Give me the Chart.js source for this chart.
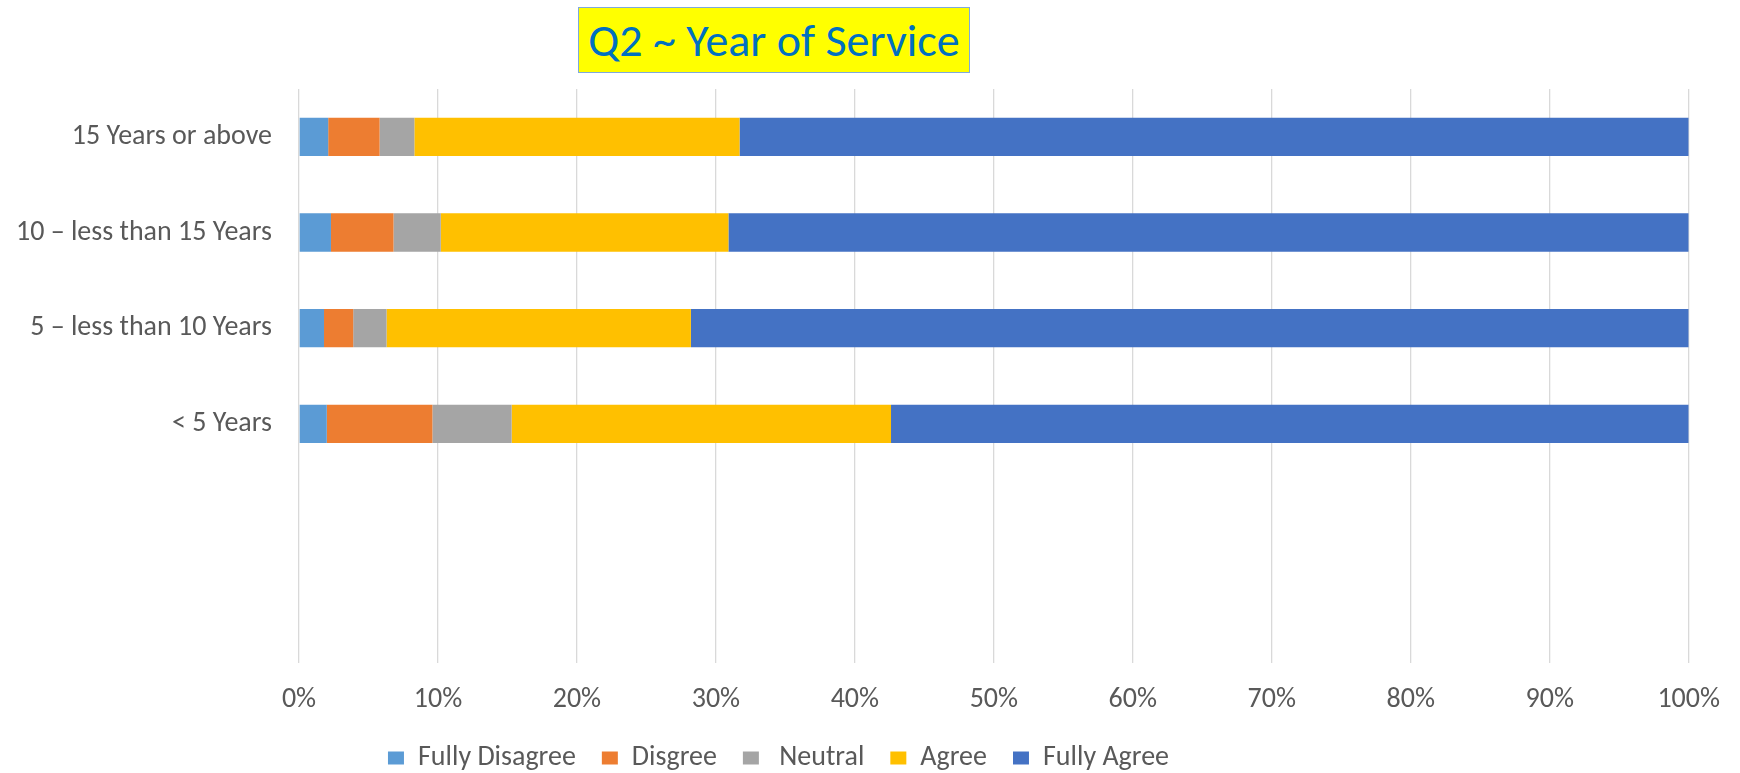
<!DOCTYPE html>
<html>
<head>
<meta charset="utf-8">
<title>Q2 ~ Year of Service</title>
<script src="https://cdn.jsdelivr.net/npm/chart.js@4/dist/chart.umd.min.js"></script>
<style>
  html, body { margin: 0; padding: 0; background: #ffffff; }
  #wrap { position: relative; width: 1740px; height: 773px; }
  #graph { position: absolute; left: 0; top: 0; }
  #title {
    position: absolute; left: 578px; top: 7px; width: 390px; height: 64px;
    background: #ffff00; border: 1px solid #7fa9dc;
    color: #0070c0; font-family: Carlito, "Open Sans", sans-serif; font-size: 46px;
    line-height: 64px; text-align: center; white-space: nowrap;
  }
</style>
</head>
<body>
<div id="wrap">
  <canvas id="graph" width="1740" height="773"></canvas>
  <div id="title">Q2 ~ Year of Service</div>
</div>
<script>
// Survey answers per service band, in percent of respondents
const categories = ['15 Years or above', '10 \u2013 less than 15 Years', '5 \u2013 less than 10 Years', '< 5 Years', '', ''];
const fullyDisagree = [2.1, 2.3, 1.8, 2.0];
const disagree = [3.7, 4.5, 2.1, 7.6];
const neutral = [2.5, 3.4, 2.4, 5.7];
const agree = [23.4, 20.7, 21.9, 27.3];
const fullyAgree = [68.3, 69.1, 71.8, 57.4];
const xTicks = [0, 10, 20, 30, 40, 50, 60, 70, 80, 90, 100];

const labelFont = { family: 'Carlito, "Open Sans", sans-serif', size: 28 };
const textColor = '#595959';

function series(label, data, color) {
    return {
        label: label,
        data: data,
        backgroundColor: color,
        borderWidth: 0,
        barPercentage: 0.4,
        categoryPercentage: 1
    };
}

// move the legend row left under the bars and a bit lower
const legendShift = {
    id: 'legendShift',
    afterLayout(chart) {
        chart.legend.left -= 66;
        chart.legend.right -= 66;
        chart.legend.top += 9;
        chart.legend.bottom += 9;
    }
};

var ctx = document.getElementById('graph').getContext('2d');
var myChart = new Chart(ctx, {
    type: 'bar',
    data: {
        labels: categories,
        datasets: [
            series('Fully Disagree', fullyDisagree, '#5b9bd5'),
            series('Disgree', disagree, '#ed7d31'),
            series(' Neutral', neutral, '#a5a5a5'),
            series('Agree', agree, '#ffc000'),
            series('Fully Agree', fullyAgree, '#4472c4')
        ]
    },
    plugins: [legendShift],
    options: {
        indexAxis: 'y',
        responsive: false,
        animation: false,
        layout: {
            padding: { top: 89, right: 51, left: 0, bottom: 0 }
        },
        plugins: {
            title: { display: false },
            tooltip: { enabled: false },
            legend: {
                position: 'bottom',
                labels: {
                    font: labelFont,
                    color: textColor,
                    boxWidth: 16,
                    boxHeight: 13,
                    padding: 26
                }
            }
        },
        scales: {
            x: {
                stacked: true,
                min: 0,
                max: 100,
                afterBuildTicks: function(scale) {
                    scale.ticks = xTicks.map(v => ({ value: v }));
                },
                afterFit: function(scale) {
                    scale.height = 46;
                },
                ticks: {
                    font: labelFont,
                    color: textColor,
                    padding: 20,
                    callback: v => v + '%'
                },
                grid: {
                    color: '#d9d9d9',
                    lineWidth: 1.3,
                    drawTicks: false
                },
                border: { display: false }
            },
            y: {
                stacked: true,
                afterFit: function(scale) {
                    scale.width = 299;
                },
                ticks: {
                    font: labelFont,
                    color: textColor,
                    padding: 27
                },
                grid: { display: false, drawTicks: false },
                border: { display: false }
            }
        }
    }
});
</script>
</body>
</html>
